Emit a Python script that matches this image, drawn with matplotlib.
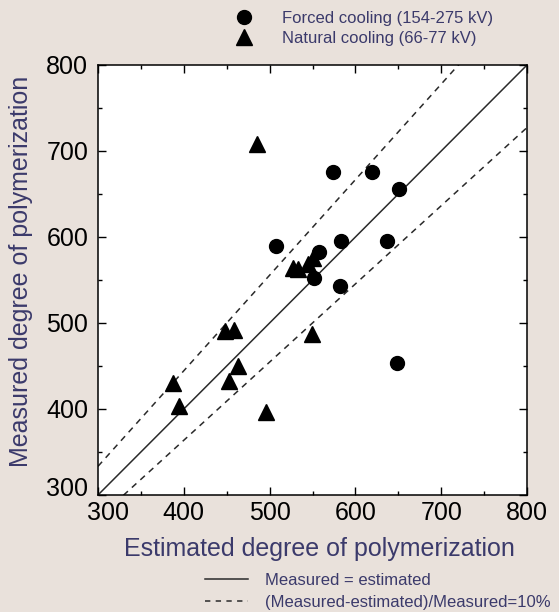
import numpy as np
import matplotlib
matplotlib.use('Agg')
import matplotlib.pyplot as plt
from matplotlib.lines import Line2D
from matplotlib.ticker import MultipleLocator
from matplotlib.transforms import ScaledTranslation

plt.rcParams['font.family'] = ['Liberation Sans', 'DejaVu Sans']

# forced cooling (154-275 kV) - circles
forced_est = [574, 619, 651, 507, 583, 637, 558, 552, 582, 649]
forced_meas = [675, 675, 656, 590, 595, 595, 583, 552, 543, 454]

# natural cooling (66-77 kV) - triangles
natural_est = [485, 527, 533, 545, 551, 448, 459, 549, 463, 453, 387, 394, 496]
natural_meas = [708, 564, 563, 569, 575, 491, 492, 487, 450, 433, 430, 404, 396]

axis_lim = [300, 800]
label_color = '#3b3a6b'
bg = '#e9e1db'

fig = plt.figure(figsize=(5.59, 6.12), dpi=100, facecolor=bg)
ax = fig.add_axes([0.1753, 0.1912, 0.7675, 0.7026])
ax.set_facecolor('white')

diag = np.array(axis_lim, dtype=float)
ax.plot(diag, diag, '-', color='#2a2a2a', lw=1.1)
ax.plot(diag, diag / 0.9, '--', color='#2a2a2a', lw=1.1, dashes=(4, 3.5))
ax.plot(diag, diag / 1.1, '--', color='#2a2a2a', lw=1.1, dashes=(4, 3.5))

ax.plot(forced_est, forced_meas, 'o', color='black', ms=10, mec='black')
ax.plot(natural_est, natural_meas, '^', color='black', ms=11, mec='black')

ax.set_xlim(axis_lim)
ax.set_ylim(axis_lim)
ax.xaxis.set_major_locator(MultipleLocator(100))
ax.yaxis.set_major_locator(MultipleLocator(100))
ax.xaxis.set_minor_locator(MultipleLocator(50))
ax.yaxis.set_minor_locator(MultipleLocator(50))
ax.tick_params(which='both', direction='in', top=True, right=True, labelsize=18,
               colors='black')
ax.tick_params(axis='x', pad=4)
ax.tick_params(axis='y', pad=7)
ax.tick_params(which='major', length=6, width=1)
ax.tick_params(which='minor', length=3, width=1)
for s in ax.spines.values():
    s.set_linewidth(1.1)

ax.set_xlabel('Estimated degree of polymerization', fontsize=18, color=label_color)
ax.set_ylabel('Measured degree of polymerization', fontsize=18, color=label_color)
ax.xaxis.set_label_coords(0.515, -0.098)
ax.yaxis.set_label_coords(-0.152, 0.52)

top_handles = [
    Line2D([], [], marker='o', color='black', ls='none', ms=10),
    Line2D([], [], marker='^', color='black', ls='none', ms=11),
]
leg1 = fig.legend(top_handles, ['Forced cooling (154-275 kV)', 'Natural cooling (66-77 kV)'],
                  loc='upper left', bbox_to_anchor=(0.395, 0.993), frameon=False,
                  fontsize=12, handletextpad=1.25, labelspacing=0.32, borderaxespad=0)
for t in leg1.get_texts():
    t.set_color(label_color)

bottom_handles = [
    Line2D([], [], color='#2a2a2a', lw=1.1),
    Line2D([], [], color='#2a2a2a', lw=1.1, ls='--', dashes=(3.5, 3.5)),
]
leg2 = fig.legend(bottom_handles, ['Measured = estimated', '(Measured-estimated)/Measured=10%'],
                  loc='lower left', bbox_to_anchor=(0.355, -0.008), frameon=False,
                  fontsize=12, handlelength=2.6, handletextpad=1.0, labelspacing=0.45,
                  borderaxespad=0)
for t in leg2.get_texts():
    t.set_color(label_color)

# the two "300" labels are nudged apart, as in the original
fig.canvas.draw()
for lab in ax.get_yticklabels():
    if lab.get_text() == '300':
        lab.set_transform(lab.get_transform() + ScaledTranslation(0, 6 / 72, fig.dpi_scale_trans))
for lab in ax.get_xticklabels():
    if lab.get_text() == '300':
        lab.set_transform(lab.get_transform() + ScaledTranslation(7 / 72, 0, fig.dpi_scale_trans))

fig.savefig('out.png', dpi=100, facecolor=bg)
